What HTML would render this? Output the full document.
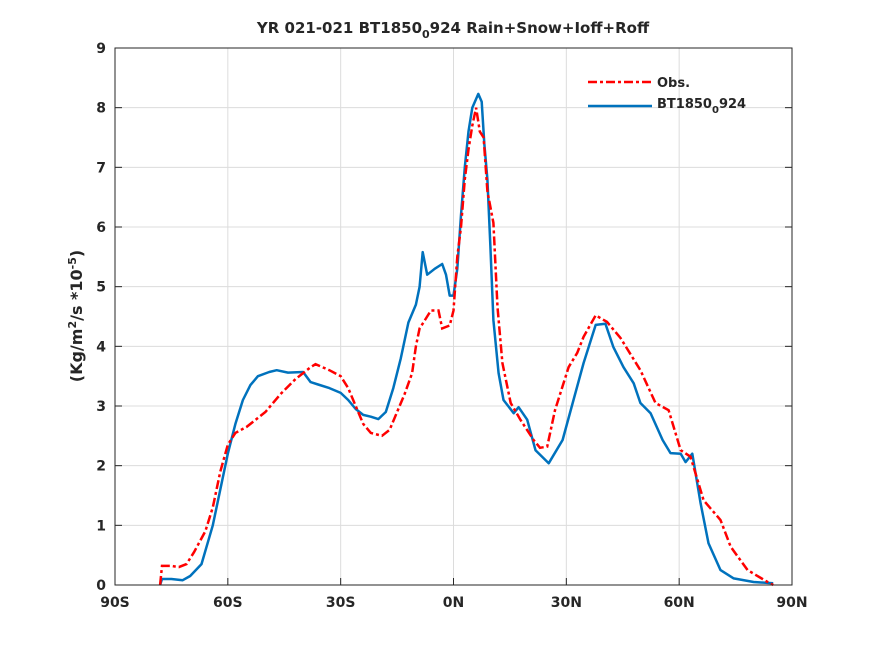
<!DOCTYPE html>
<html><head><meta charset="utf-8"><style>
body{margin:0;background:#fff;}
svg text{font-family:"DejaVu Sans","Liberation Sans",sans-serif;font-weight:bold;fill:#262626;}
</style></head><body>
<svg id="chart" width="875" height="656" xmlns="http://www.w3.org/2000/svg">
<rect width="875" height="656" fill="#fff"/>
<text x="453" y="33" font-size="15" text-anchor="middle">YR 021-021 BT1850<tspan dy="5" font-size="11">0</tspan><tspan dy="-5">924  Rain+Snow+Ioff+Roff</tspan></text>
<g id="grid"></g>
<g id="series"></g>
<rect x="115" y="48" width="677" height="537" fill="none" stroke="#262626" stroke-width="1"/>
<g id="ticks"></g>
<text transform="translate(82,316) rotate(-90)" font-size="16" text-anchor="middle">(Kg/m<tspan dy="-6" font-size="11">2</tspan><tspan dy="6">/s *10</tspan><tspan dy="-6" font-size="11">-5</tspan><tspan dy="6">)</tspan></text>
<g>
<line x1="588" y1="82" x2="652" y2="82" stroke="#ff0000" stroke-width="2.5" stroke-dasharray="9,3,3,3"/>
<text x="657" y="87" font-size="13">Obs.</text>
<line x1="588" y1="106" x2="652" y2="106" stroke="#0072bd" stroke-width="2.5"/>
<text x="657" y="108" font-size="13">BT1850<tspan dy="5" font-size="10">0</tspan><tspan dy="-5">924</tspan></text>
</g>
</svg>
<script>
const xTicks=[-90,-60,-30,0,30,60,90];
const xTickLabels=["90S","60S","30S","0N","30N","60N","90N"];
const yTicks=[0,1,2,3,4,5,6,7,8,9];
const obsLat=[-78,-77.5,-75,-73,-71,-69,-66,-64,-62,-60,-58,-55,-50,-46,-42,-38,-36.7,-33,-30,-28,-26,-24,-22,-19,-17,-15,-13,-11,-10,-9,-8,-6,-4,-3,-1,0,1,2,3,4,5,6,7,8,9,10.6,11.7,13,15.2,17.8,21.3,23,24.9,27,30.6,32.9,34.6,37.8,40.8,44.4,49.7,53.7,57.2,60.4,63,66.5,71,73.7,78.2,83.5,85];
const obsVal=[0,0.32,0.32,0.3,0.35,0.55,0.9,1.3,1.9,2.35,2.55,2.65,2.9,3.2,3.45,3.65,3.7,3.6,3.5,3.3,3.0,2.7,2.55,2.5,2.6,2.9,3.2,3.55,4.0,4.3,4.4,4.6,4.6,4.3,4.35,4.6,5.5,6.0,6.8,7.3,7.7,8.0,7.6,7.5,6.6,6.07,4.66,3.72,3.05,2.77,2.43,2.3,2.32,2.93,3.65,3.89,4.16,4.52,4.41,4.14,3.6,3.05,2.93,2.26,2.15,1.42,1.09,0.64,0.25,0.05,0];
const modLat=[-78,-77.5,-75,-72,-70,-67,-64,-62,-60,-58,-56,-54,-52,-49,-47,-44,-40,-38,-36,-33,-30,-28,-26,-24,-22,-20,-18,-16,-14,-12,-10,-9,-8.2,-7,-6,-5,-3,-2,-1,0,1,2,3,4,5,6.6,7.5,8.2,9,9.8,10.6,12,13.3,16,17.3,19.6,21.8,25.3,29,31.9,34.6,37.8,40.4,42.5,45.2,47.9,49.7,52.4,55.6,57.7,60.4,61.7,63.5,65.7,67.8,71,74.5,79.8,85];
const modVal=[0,0.1,0.1,0.08,0.15,0.35,1.0,1.6,2.2,2.7,3.1,3.35,3.5,3.57,3.6,3.56,3.57,3.4,3.36,3.3,3.22,3.1,2.95,2.85,2.82,2.78,2.9,3.3,3.8,4.4,4.7,5.0,5.58,5.2,5.25,5.3,5.38,5.2,4.85,4.85,5.3,6.2,7.0,7.6,8.0,8.23,8.1,7.4,6.8,5.67,4.44,3.55,3.1,2.88,2.98,2.77,2.26,2.04,2.43,3.1,3.72,4.36,4.38,3.99,3.65,3.38,3.05,2.88,2.43,2.21,2.2,2.06,2.2,1.37,0.7,0.25,0.11,0.05,0.03];
const X=v=>115+(v+90)*677/180;
const Y=v=>585-v*537/9;
const NS="http://www.w3.org/2000/svg";
const grid=document.getElementById('grid'),ticks=document.getElementById('ticks'),ser=document.getElementById('series');
function mk(tag,attrs,parent){const e=document.createElementNS(NS,tag);for(const k in attrs)e.setAttribute(k,attrs[k]);parent.appendChild(e);return e;}
xTicks.forEach((t,i)=>{
  const g=mk('line',{x1:X(t),x2:X(t),y1:48,y2:585,stroke:'#dcdcdc','stroke-width':1},grid);
  
  
  const tk=mk('line',{x1:X(t),x2:X(t),y1:585,y2:578,stroke:'#262626'},ticks);
  
  
  const tx=mk('text',{x:X(t),y:607,'font-size':14,'text-anchor':'middle'},ticks);
  tx.textContent=xTickLabels[i];
  
  
});
yTicks.forEach(t=>{
  const g=mk('line',{x1:115,x2:792,y1:Y(t),y2:Y(t),stroke:'#dcdcdc','stroke-width':1},grid);
  
  
  const tk=mk('line',{x1:115,x2:122,y1:Y(t),y2:Y(t),stroke:'#262626'},ticks);
  
  
  const tk2=mk('line',{x1:785,x2:792,y1:Y(t),y2:Y(t),stroke:'#262626'},ticks);
  
  
  const tx=mk('text',{x:106,y:Y(t)+5,'font-size':14,'text-anchor':'end'},ticks);
  tx.textContent=String(t);
  
  
});
function pts(lat,val){return lat.map((l,i)=>X(l).toFixed(1)+','+Y(val[i]).toFixed(1)).join(' ');}
const m=mk('polyline',{points:pts(modLat,modVal),fill:'none',stroke:'#0072bd','stroke-width':2.5,'stroke-linejoin':'round'},ser);


const o=mk('polyline',{points:pts(obsLat,obsVal),fill:'none',stroke:'#ff0000','stroke-width':2.5,'stroke-dasharray':'9,3,3,3'},ser);


</script>
</body></html>
